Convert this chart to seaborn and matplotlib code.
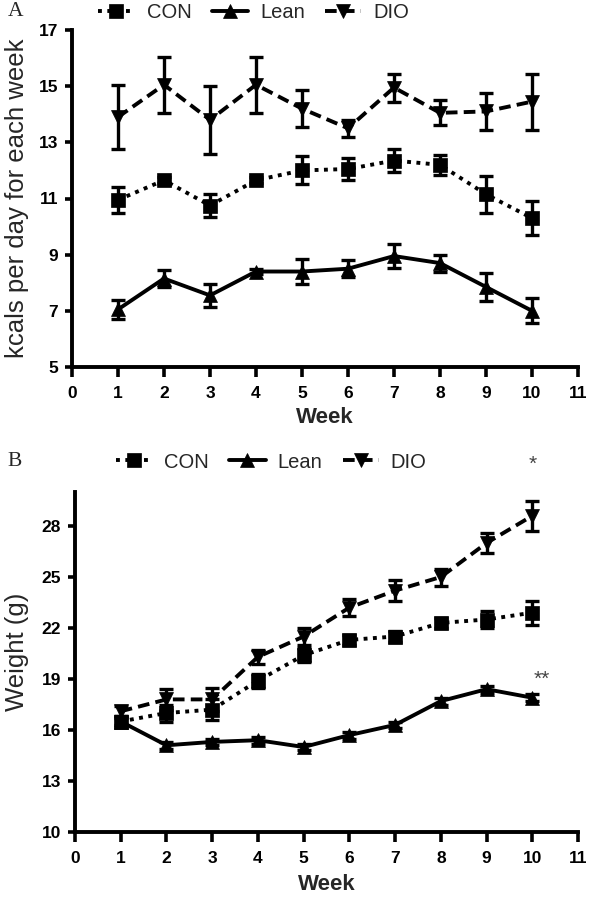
import matplotlib
matplotlib.use("Agg")
import matplotlib.pyplot as plt
import seaborn as sns
import pandas as pd
import numpy as np

sns.set_theme(style="ticks")
plt.rcParams['font.family'] = ['Liberation Sans', 'DejaVu Sans']

weeks = [1, 2, 3, 4, 5, 6, 7, 8, 9, 10]
groups = ["CON", "Lean", "DIO"]

# Panel A: kcals per day for each week
con_kcal = [10.95, 11.65, 10.75, 11.65, 12.0, 12.05, 12.35, 12.2, 11.15, 10.3]
con_kcal_err = [0.45, 0.1, 0.4, 0.1, 0.5, 0.4, 0.4, 0.35, 0.65, 0.6]
lean_kcal = [7.05, 8.15, 7.55, 8.4, 8.4, 8.5, 8.95, 8.7, 7.85, 7.0]
lean_kcal_err = [0.35, 0.3, 0.4, 0.1, 0.45, 0.3, 0.42, 0.3, 0.5, 0.45]
dio_kcal = [13.9, 15.05, 13.8, 15.05, 14.2, 13.5, 14.95, 14.05, 14.1, 14.45]
dio_kcal_err = [1.15, 1.0, 1.2, 1.0, 0.65, 0.3, 0.5, 0.45, 0.65, 1.0]

# Panel B: weight (g)
con_wt = [16.5, 17.0, 17.2, 18.9, 20.4, 21.3, 21.5, 22.3, 22.5, 22.9]
con_wt_err = [0.3, 0.5, 0.6, 0.4, 0.4, 0.3, 0.3, 0.3, 0.5, 0.7]
lean_wt = [16.5, 15.1, 15.3, 15.4, 15.0, 15.7, 16.3, 17.7, 18.4, 17.9]
lean_wt_err = [0.2, 0.2, 0.2, 0.2, 0.2, 0.2, 0.2, 0.2, 0.2, 0.2]
dio_wt = [17.1, 17.8, 17.8, 20.3, 21.5, 23.2, 24.2, 25.0, 27.0, 28.6]
dio_wt_err = [0.3, 0.6, 0.7, 0.4, 0.5, 0.5, 0.6, 0.5, 0.6, 0.9]

kcal_yticks = [5, 7, 9, 11, 13, 15, 17]
wt_yticks = [10, 13, 16, 19, 22, 25, 28]
xticks = list(range(0, 12))

styles = {
    "CON": dict(marker="s", dashes=(1.0, 1.4)),
    "Lean": dict(marker="^", dashes=None),
    "DIO": dict(marker="v", dashes=(3.0, 1.6)),
}

fig = plt.figure(figsize=(5.9, 9.0), dpi=100)
axA = fig.add_axes([72 / 590, 1 - 367 / 900, 506 / 590, 337 / 900])
axB = fig.add_axes([75 / 590, 1 - 832 / 900, 503 / 590, 340 / 900])

LW = 2.8


def draw(ax, series, yticks, ylim, ylabel, ylab_xy, xlab_y):
    handles = []
    for name, (vals, errs) in zip(groups, series):
        df = pd.DataFrame({"week": weeks, "val": vals})
        st = styles[name]
        ax.errorbar(weeks, vals, yerr=errs, fmt="none", ecolor="black",
                    elinewidth=2.4, capsize=5, capthick=2.4, zorder=2)
        sns.lineplot(data=df, x="week", y="val", ax=ax, color="black",
                     marker=st["marker"], markersize=10, markeredgecolor="black",
                     markeredgewidth=0.5, linewidth=LW, zorder=3, label=name,
                     legend=False)
        line = ax.lines[-1]
        if st["dashes"] is not None:
            line.set_dashes(st["dashes"])
        handles.append(line)
    ax.set_xlim(0, 11)
    ax.set_ylim(*ylim)
    ax.set_xticks(xticks)
    ax.set_yticks(yticks)
    ax.set_xticklabels([str(t) for t in xticks], fontweight="bold", fontsize=12.5)
    ax.set_yticklabels([str(t) for t in yticks], fontweight="bold", fontsize=12.5)
    ax.set_xlabel("Week", fontweight="bold", fontsize=16, va="center")
    ax.xaxis.set_label_coords(0.5, xlab_y)
    ax.set_ylabel(ylabel, fontsize=18.5, va="center")
    ax.yaxis.set_label_coords(*ylab_xy)
    for s in ["top", "right"]:
        ax.spines[s].set_visible(False)
    for s in ["left", "bottom"]:
        ax.spines[s].set_linewidth(2.8)
        ax.spines[s].set_color("black")
    ax.tick_params(axis="x", direction="out", length=7, width=2.6,
                   colors="black", pad=7)
    ax.tick_params(axis="y", direction="out", length=5, width=2.6,
                   colors="black", pad=5)
    ax.set_facecolor("white")
    return handles


hA = draw(axA, [(con_kcal, con_kcal_err), (lean_kcal, lean_kcal_err),
                (dio_kcal, dio_kcal_err)], kcal_yticks, (5, 17),
          "kcals per day for each week", (-0.108, 0.5), -0.15)
hB = draw(axB, [(con_wt, con_wt_err), (lean_wt, lean_wt_err),
                (dio_wt, dio_wt_err)], wt_yticks, (10, 30), "Weight (g)",
          (-0.115, 0.53), -0.153)

for h, x, y in [(hA, 0.43, 1 - 13 / 900), (hB, 0.46, 1 - 462 / 900)]:
    fig.legend(h, groups, loc="center", bbox_to_anchor=(x, y), ncol=3,
               frameon=False, fontsize=14.5, handlelength=1.8,
               handletextpad=0.6, columnspacing=1.0, borderaxespad=0,
               borderpad=0)

fig.text(0.013, 1 - 12 / 900, "A", family="Liberation Serif", fontsize=15.5,
         va="center", ha="left")
fig.text(0.013, 1 - 462 / 900, "B", family="Liberation Serif", fontsize=15.5,
         va="center", ha="left")

axB.text(10, 31.6, "*", ha="center", va="center", fontsize=15, color="#444444",
         clip_on=False)
axB.text(10.2, 19.0, "**", ha="center", va="center", fontsize=15,
         color="#444444", clip_on=False)

fig.savefig("out.png", dpi=100, facecolor="white")
